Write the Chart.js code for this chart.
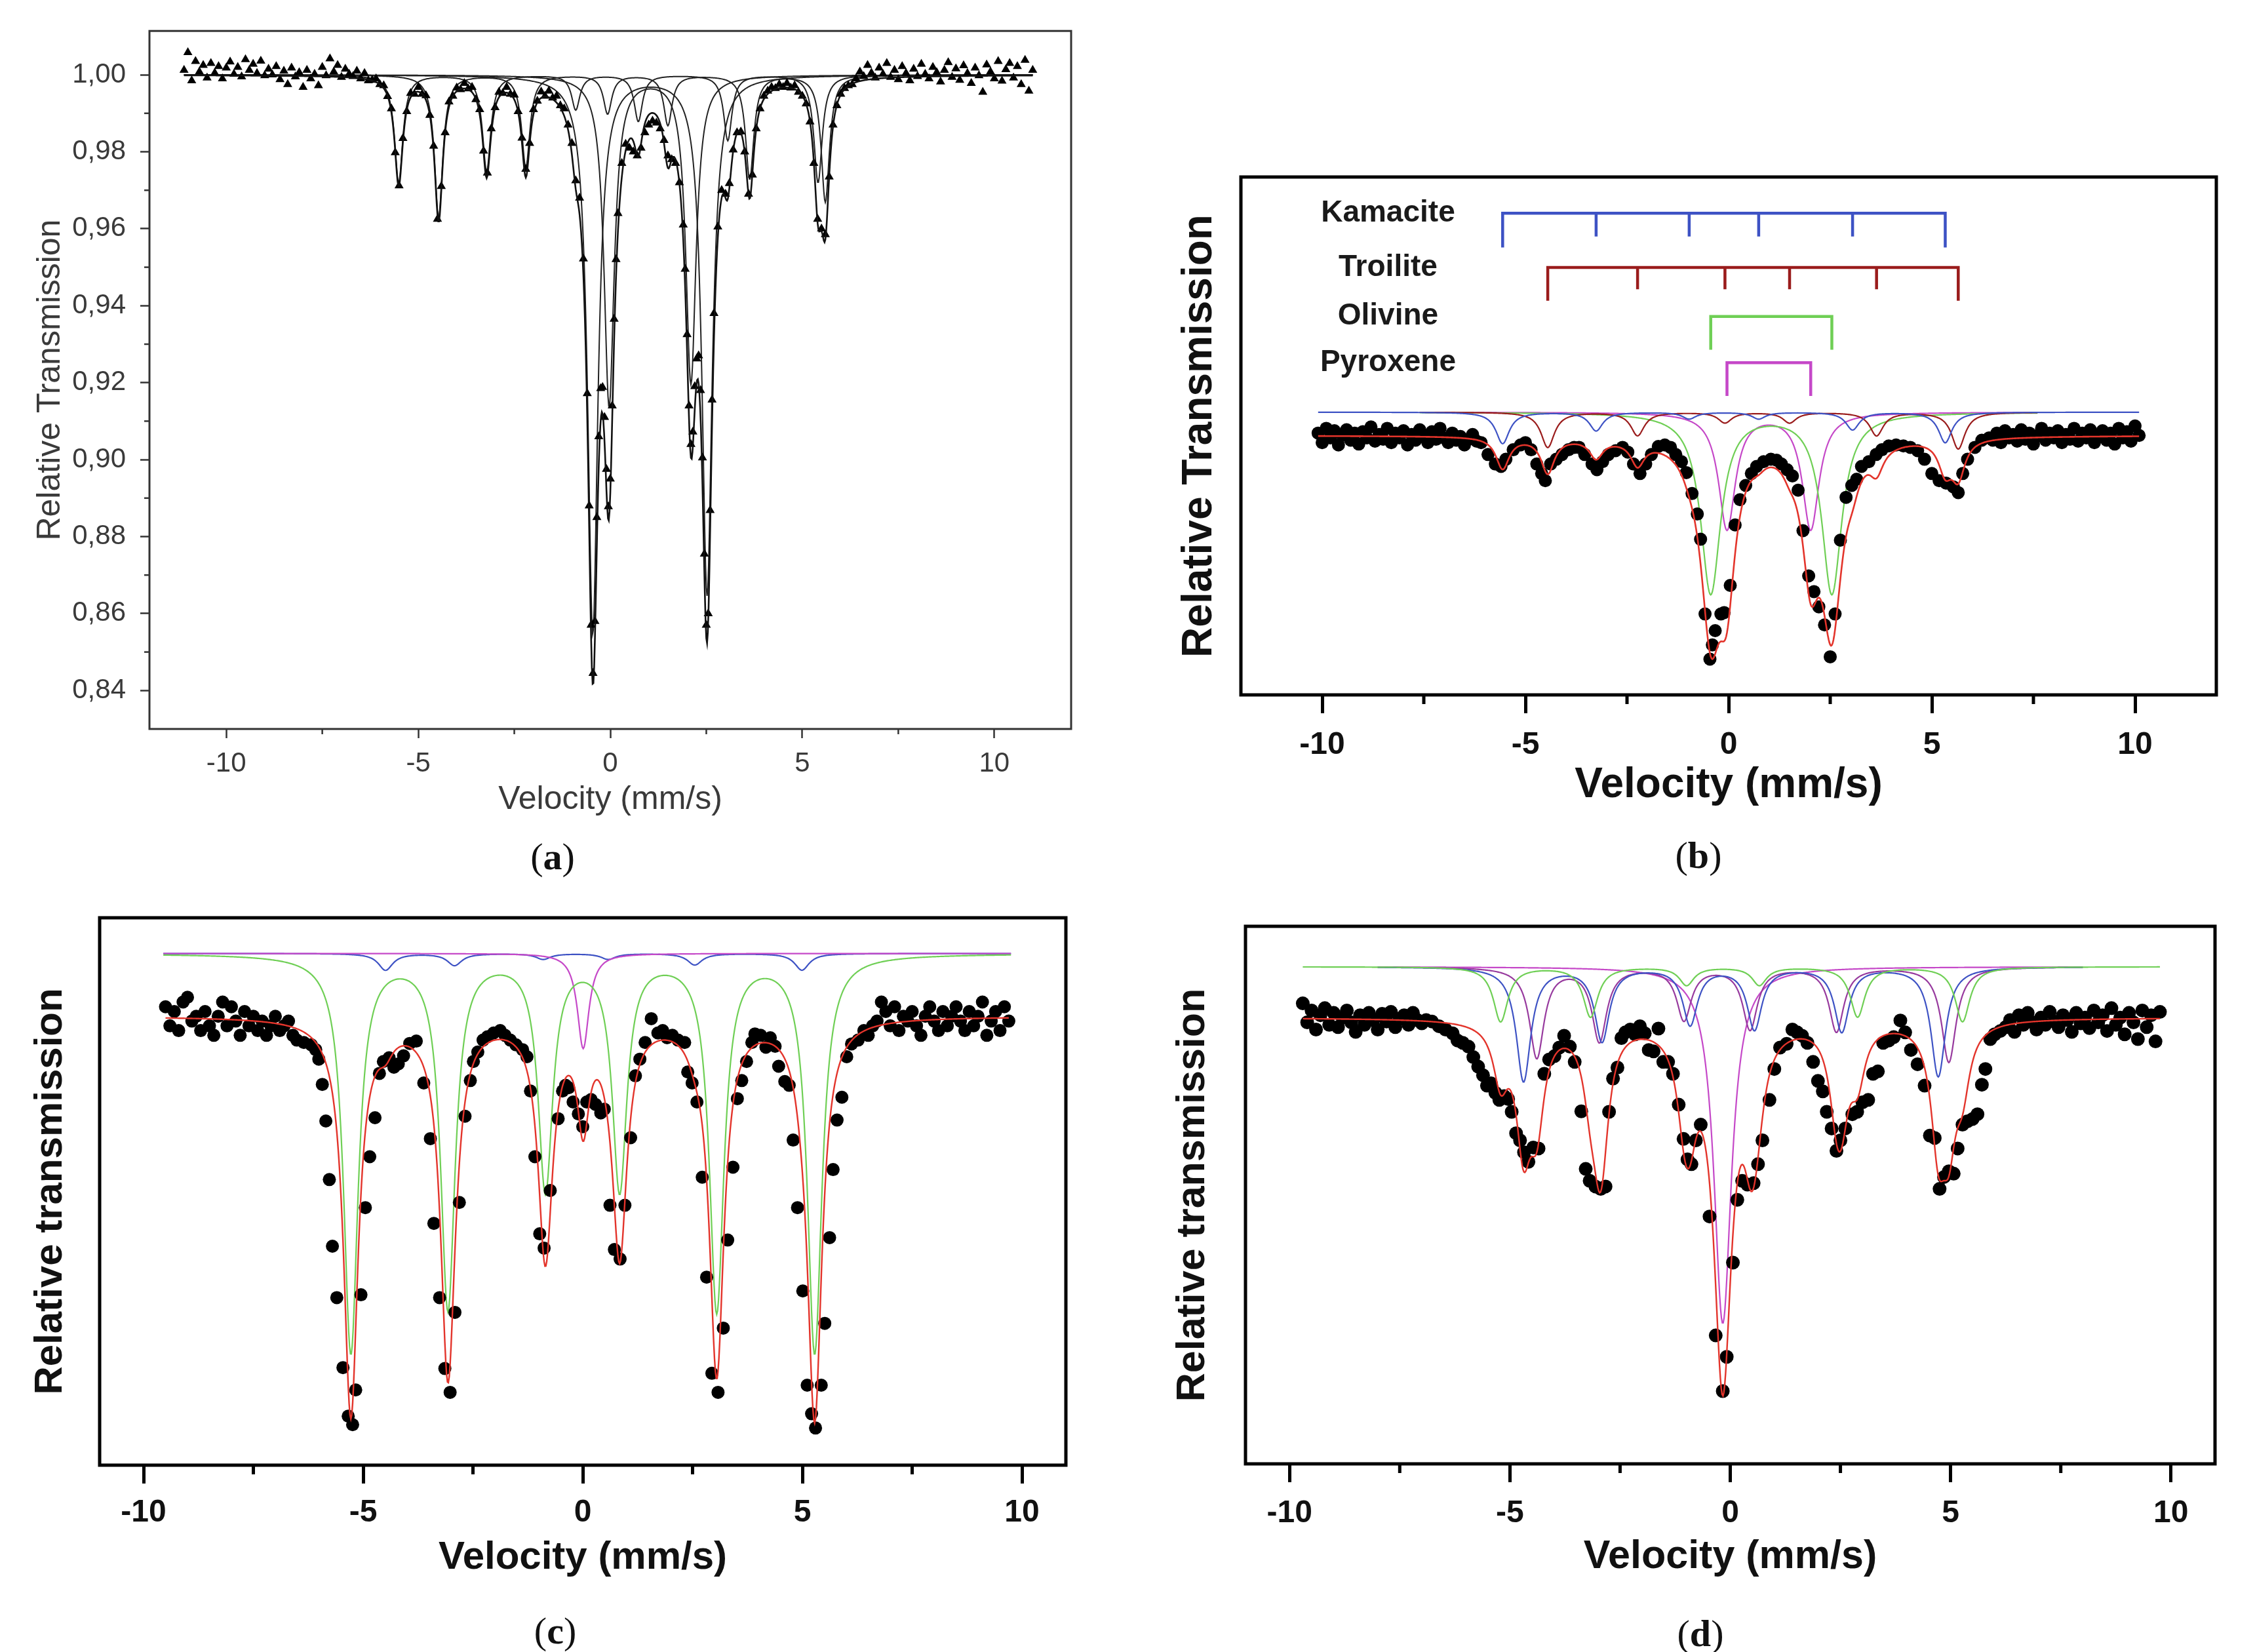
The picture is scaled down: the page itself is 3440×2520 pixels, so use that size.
<!DOCTYPE html>
<html>
<head>
<meta charset="utf-8">
<title>Mössbauer spectra</title>
<script src="https://cdn.jsdelivr.net/npm/chart.js@4.4.1/dist/chart.umd.min.js"></script>
<style>
  html, body { margin: 0; padding: 0; background: #fff; }
  body { position: relative; width: 3440px; height: 2520px; overflow: hidden; }
  canvas { position: absolute; }
  .caption { position: absolute; transform: translate(-50%, -50%); font-family: 'Liberation Serif', 'DejaVu Serif', serif; font-size: 58px; color: #111; white-space: nowrap; }
</style>
</head>
<body>
<canvas id="chartA"></canvas>
<canvas id="chartB"></canvas>
<canvas id="chartC"></canvas>
<canvas id="chartD"></canvas>
<div class="caption" style="left:843px;top:1306px">(<b>a</b>)</div>
<div class="caption" style="left:2591px;top:1304px">(<b>b</b>)</div>
<div class="caption" style="left:847px;top:2487px">(<b>c</b>)</div>
<div class="caption" style="left:2594px;top:2491px">(<b>d</b>)</div>
<script>
// ---- axis values shared by the panels ----
const velocityTicks = [-10, -5, 0, 5, 10];
const velocityMinorTicks = [-7.5, -2.5, 2.5, 7.5];
const aTransTicks = [0.84, 0.86, 0.88, 0.90, 0.92, 0.94, 0.96, 0.98, 1.00];
const aTransMinorTicks = [0.85, 0.87, 0.89, 0.91, 0.93, 0.95, 0.97, 0.99];

// ---- panel (a): measured spectrum [velocity, relative transmission] ----
const aSpectrum = [
  [-11.1,1.0012],[-11.0,1.0058],[-10.9,0.9985],[-10.8,1.0035],[-10.7,1.0008],[-10.6,1.0025],[-10.5,0.9992],[-10.4,1.0030],
  [-10.3,1.0005],[-10.2,1.0022],[-10.1,0.9990],[-10.0,1.0018],[-9.9,1.0034],[-9.8,1.0002],[-9.7,1.0020],[-9.6,0.9995],
  [-9.5,1.0040],[-9.4,1.0012],[-9.3,1.0028],[-9.2,1.0004],[-9.1,1.0036],[-9.0,0.9998],[-8.9,1.0015],[-8.8,1.0000],
  [-8.7,1.0022],[-8.6,0.9988],[-8.5,1.0010],[-8.4,0.9975],[-8.3,1.0018],[-8.2,0.9995],[-8.1,1.0006],[-8.0,0.9968],
  [-7.9,1.0012],[-7.8,0.9990],[-7.7,1.0002],[-7.6,0.9972],[-7.5,1.0020],[-7.4,0.9998],[-7.3,1.0042],[-7.2,1.0008],
  [-7.1,1.0025],[-7.0,0.9994],[-6.9,1.0015],[-6.8,1.0002],[-6.7,0.9996],[-6.6,1.0010],[-6.5,0.9990],[-6.4,1.0004],
  [-6.3,0.9985],[-6.2,0.9986],[-6.1,0.9990],[-6.0,0.9975],[-5.9,0.9972],[-5.8,0.9944],[-5.7,0.9912],[-5.6,0.9798],
  [-5.5,0.9712],[-5.4,0.9835],[-5.3,0.9905],[-5.2,0.9952],[-5.1,0.9950],[-5.0,0.9968],[-4.9,0.9950],[-4.8,0.9946],
  [-4.7,0.9895],[-4.6,0.9815],[-4.5,0.9625],[-4.4,0.9710],[-4.3,0.9850],[-4.2,0.9930],[-4.1,0.9945],[-4.0,0.9966],
  [-3.9,0.9962],[-3.8,0.9978],[-3.7,0.9964],[-3.6,0.9968],[-3.5,0.9936],[-3.4,0.9910],[-3.3,0.9802],[-3.2,0.9745],
  [-3.1,0.9860],[-3.0,0.9915],[-2.9,0.9955],[-2.8,0.9952],[-2.7,0.9968],[-2.6,0.9950],[-2.5,0.9948],[-2.4,0.9905],
  [-2.3,0.9836],[-2.2,0.9755],[-2.1,0.9822],[-2.0,0.9910],[-1.9,0.9932],[-1.8,0.9956],[-1.7,0.9945],[-1.6,0.9958],
  [-1.5,0.9940],[-1.4,0.9945],[-1.3,0.9920],[-1.2,0.9912],[-1.1,0.9870],[-1.0,0.9822],[-0.9,0.9725],[-0.8,0.9680],
  [-0.7,0.9522],[-0.6,0.9172],[-0.55,0.8880],[-0.5,0.8570],[-0.45,0.8445],[-0.4,0.8580],[-0.35,0.8850],[-0.3,0.9060],
  [-0.25,0.9185],[-0.2,0.9188],[-0.15,0.9110],[-0.1,0.8975],[-0.05,0.8878],[0.0,0.8950],[0.05,0.9140],[0.1,0.9365],
  [0.15,0.9520],[0.2,0.9640],[0.3,0.9770],[0.4,0.9820],[0.5,0.9810],[0.6,0.9800],[0.7,0.9790],[0.8,0.9810],
  [0.9,0.9850],[1.0,0.9870],[1.1,0.9880],[1.2,0.9875],[1.3,0.9860],[1.4,0.9830],[1.5,0.9790],[1.6,0.9780],
  [1.7,0.9770],[1.8,0.9720],[1.9,0.9610],[1.95,0.9495],[2.0,0.9325],[2.05,0.9140],[2.1,0.9040],[2.15,0.9072],
  [2.2,0.9190],[2.25,0.9262],[2.3,0.9270],[2.35,0.9180],[2.4,0.9005],[2.45,0.8755],[2.5,0.8570],[2.55,0.8600],
  [2.6,0.8868],[2.65,0.9155],[2.7,0.9380],[2.8,0.9605],[2.9,0.9700],[3.0,0.9690],[3.1,0.9718],[3.2,0.9805],
  [3.3,0.9850],[3.4,0.9852],[3.5,0.9800],[3.6,0.9690],[3.7,0.9740],[3.8,0.9860],[3.9,0.9912],[4.0,0.9945],
  [4.1,0.9958],[4.2,0.9968],[4.3,0.9965],[4.4,0.9975],[4.5,0.9968],[4.6,0.9978],[4.7,0.9966],[4.8,0.9972],
  [4.9,0.9955],[5.0,0.9945],[5.1,0.9925],[5.2,0.9878],[5.3,0.9770],[5.4,0.9625],[5.5,0.9600],[5.6,0.9585],
  [5.7,0.9735],[5.8,0.9870],[5.9,0.9920],[6.0,0.9950],[6.1,0.9965],[6.2,0.9972],[6.3,0.9975],[6.4,0.9990],
  [6.5,1.0008],[6.6,0.9996],[6.7,1.0025],[6.8,1.0005],[6.9,0.9992],[7.0,1.0018],[7.1,1.0002],[7.2,1.0030],
  [7.3,0.9994],[7.4,1.0012],[7.5,0.9988],[7.6,1.0022],[7.7,1.0004],[7.8,0.9985],[7.9,1.0015],[8.0,0.9996],
  [8.1,1.0028],[8.2,1.0002],[8.3,0.9990],[8.4,1.0020],[8.5,1.0006],[8.6,0.9982],[8.7,1.0012],[8.8,1.0032],
  [8.9,0.9994],[9.0,1.0016],[9.1,0.9986],[9.2,1.0024],[9.3,1.0004],[9.4,0.9978],[9.5,1.0018],[9.6,0.9998],
  [9.7,0.9955],[9.8,1.0026],[9.9,1.0008],[10.0,0.9990],[10.1,1.0035],[10.2,0.9984],[10.3,1.0014],[10.4,1.0030],
  [10.5,0.9992],[10.6,1.0022],[10.7,0.9975],[10.8,1.0038],[10.9,0.9958],[11.0,1.0012]
];
// fitted sub-spectra of (a): line positions (mm/s), line depths, half width
const aKamacite = { centers: [-5.51, -3.22, -0.90, 0.73, 3.06, 5.41], depths: [0.028, 0.025, 0.009, 0.012, 0.017, 0.028], hwhm: 0.13 };
const aTroilite = { centers: [-4.47, -2.20, -0.07, 1.50, 3.63, 5.60], depths: [0.037, 0.024, 0.010, 0.013, 0.027, 0.033], hwhm: 0.13 };
const aOlivine = { centers: [-0.455, 2.52], depths: [0.145, 0.135], hwhm: 0.16 };
const aPyroxene = { centers: [-0.03, 2.10], depths: [0.086, 0.080], hwhm: 0.16 };

// ---- panel (b) ----
const bSpectrum = [
  [-10.1,100.05],[-10.0,99.85],[-9.9,100.15],[-9.8,99.95],[-9.7,100.10],[-9.6,99.80],[-9.5,100.00],[-9.4,100.12],
  [-9.3,99.90],[-9.2,100.05],[-9.1,99.82],[-9.0,100.08],[-8.9,99.95],[-8.8,100.18],[-8.7,99.88],[-8.6,100.02],
  [-8.5,99.92],[-8.4,100.15],[-8.3,99.85],[-8.2,100.05],[-8.1,99.95],[-8.0,100.10],[-7.9,99.80],[-7.8,100.02],
  [-7.7,99.90],[-7.6,100.12],[-7.5,99.98],[-7.4,99.85],[-7.3,100.08],[-7.2,99.92],[-7.1,100.15],[-7.0,99.95],
  [-6.9,99.85],[-6.8,100.05],[-6.7,99.90],[-6.6,99.98],[-6.5,99.80],[-6.4,99.92],[-6.3,100.02],[-6.2,99.88],
  [-6.09,99.85],[-5.92,99.60],[-5.74,99.40],[-5.60,99.35],[-5.48,99.50],[-5.30,99.70],[-5.12,99.80],[-5.00,99.85],
  [-4.86,99.70],[-4.72,99.40],[-4.60,99.20],[-4.51,99.05],[-4.38,99.40],[-4.24,99.50],[-4.10,99.60],[-3.94,99.70],
  [-3.80,99.75],[-3.68,99.75],[-3.54,99.60],[-3.36,99.40],[-3.24,99.28],[-3.10,99.45],[-2.96,99.60],[-2.78,99.68],
  [-2.61,99.75],[-2.48,99.65],[-2.34,99.40],[-2.18,99.20],[-2.04,99.40],[-1.90,99.60],[-1.73,99.77],[-1.57,99.80],
  [-1.43,99.75],[-1.30,99.60],[-1.16,99.45],[-1.04,99.22],[-0.90,98.78],[-0.77,98.35],[-0.69,97.82],[-0.58,96.25],
  [-0.46,95.30],[-0.40,95.60],[-0.33,95.90],[-0.19,96.25],[-0.11,96.28],[0.04,96.85],[0.16,98.12],[0.28,98.65],
  [0.42,98.95],[0.56,99.20],[0.69,99.35],[0.86,99.45],[1.04,99.50],[1.18,99.48],[1.30,99.40],[1.44,99.28],
  [1.57,99.15],[1.71,98.85],[1.83,98.00],[1.97,97.05],[2.10,96.72],[2.22,96.40],[2.36,96.02],[2.50,95.35],
  [2.62,96.25],[2.75,97.80],[2.89,98.70],[3.03,98.95],[3.15,99.08],[3.27,99.35],[3.45,99.45],[3.63,99.60],
  [3.77,99.70],[3.94,99.78],[4.12,99.80],[4.30,99.78],[4.47,99.75],[4.65,99.68],[4.82,99.50],[5.00,99.20],
  [5.18,99.05],[5.35,99.00],[5.53,98.92],[5.65,98.80],[5.76,99.20],[5.88,99.50],[6.06,99.75],[6.23,99.90],
  [6.41,99.95],[6.5,99.90],[6.6,100.05],[6.7,99.85],[6.8,100.10],[6.9,99.95],[7.0,100.02],[7.1,99.88],
  [7.2,100.12],[7.3,99.92],[7.4,100.05],[7.5,99.82],[7.6,100.00],[7.7,100.15],[7.8,99.90],[7.9,100.05],
  [8.0,99.95],[8.1,100.10],[8.2,99.85],[8.3,100.02],[8.4,99.92],[8.5,100.15],[8.6,99.88],[8.7,100.05],
  [8.8,99.95],[8.9,100.12],[9.0,99.85],[9.1,100.00],[9.2,100.10],[9.3,99.90],[9.4,100.05],[9.5,99.82],
  [9.6,100.15],[9.7,99.95],[9.8,100.08],[9.9,99.88],[10.0,100.20],[10.1,100.00]
];
const bKamacite = { centers: [-5.56, -3.26, -0.97, 0.74, 3.05, 5.33], depths: [0.66, 0.39, 0.14, 0.14, 0.37, 0.64], hwhm: 0.2 };
const bTroilite = { centers: [-4.45, -2.24, -0.09, 1.50, 3.64, 5.65], depths: [0.74, 0.49, 0.22, 0.22, 0.49, 0.77], hwhm: 0.2 };
const bOlivine = { centers: [-0.44, 2.54], depths: [3.8, 3.8], hwhm: 0.3 };
const bPyroxene = { centers: [-0.04, 2.02], depths: [2.45, 2.45], hwhm: 0.25 };
// stick-diagram rows above the spectrum: label, level, drop of end and inner ticks
const bPhaseNames = ['Kamacite', 'Troilite', 'Olivine', 'Pyroxene'];
const bPhaseLevels = [104.67, 103.53, 102.50, 101.53];
const bPhaseEndDrops = [0.72, 0.70, 0.70, 0.70];
const bPhaseInnerDrops = [0.49, 0.46, 0, 0];

// ---- panel (c) ----
const cSpectrum = [
  [-9.5,100.2],[-9.4,99.8],[-9.3,100.1],[-9.2,99.7],[-9.1,100.3],[-9.0,100.4],[-8.9,99.9],[-8.8,100.0],
  [-8.7,99.7],[-8.6,100.1],[-8.5,99.8],[-8.4,99.6],[-8.3,100.0],[-8.2,100.3],[-8.1,99.8],[-8.0,100.2],
  [-7.9,99.9],[-7.8,99.6],[-7.7,100.1],[-7.6,99.8],[-7.5,100.0],[-7.4,99.7],[-7.3,99.9],[-7.2,99.6],
  [-7.1,99.8],[-7.0,100.0],[-6.9,99.7],[-6.8,99.8],[-6.7,99.9],[-6.6,99.6],
  [-6.51,99.50],[-6.35,99.45],[-6.18,99.40],[-6.08,99.30],[-6.01,99.10],[-5.93,98.57],[-5.85,97.80],[-5.77,96.57],
  [-5.70,95.17],[-5.60,94.09],[-5.46,92.62],[-5.34,91.60],[-5.24,91.42],[-5.17,92.15],[-5.05,94.15],[-4.95,95.98],
  [-4.85,97.05],[-4.73,97.87],[-4.63,98.80],[-4.54,99.05],[-4.41,99.13],[-4.30,98.93],[-4.20,99.00],[-4.08,99.17],
  [-3.94,99.43],[-3.79,99.48],[-3.62,98.60],[-3.47,97.43],[-3.39,95.65],[-3.26,94.09],[-3.14,92.60],[-3.02,92.10],
  [-2.91,93.78],[-2.81,96.09],[-2.68,97.90],[-2.56,98.65],[-2.49,99.05],[-2.39,99.25],[-2.27,99.50],[-2.17,99.57],
  [-2.03,99.65],[-1.88,99.70],[-1.77,99.60],[-1.65,99.50],[-1.52,99.40],[-1.37,99.30],[-1.27,99.15],[-1.19,98.43],
  [-1.09,97.05],[-0.98,95.43],[-0.88,95.13],[-0.74,96.34],[-0.56,97.85],[-0.46,98.43],[-0.39,98.55],[-0.32,98.50],
  [-0.22,98.20],[-0.10,97.95],[0.00,97.68],[0.09,98.20],[0.19,98.25],[0.29,98.15],[0.41,97.97],[0.49,98.05],
  [0.62,96.03],[0.72,95.10],[0.85,94.90],[0.96,96.03],[1.09,97.45],[1.20,98.75],[1.30,99.10],[1.42,99.45],
  [1.56,99.95],[1.71,99.65],[1.82,99.70],[1.92,99.55],[2.04,99.60],[2.17,99.50],[2.32,99.45],[2.39,98.83],
  [2.49,98.60],[2.60,98.20],[2.72,96.62],[2.82,94.52],[2.94,92.50],[3.08,92.10],[3.20,93.45],[3.30,95.30],
  [3.42,96.83],[3.52,98.27],[3.62,98.65],[3.73,99.05],[3.85,99.45],[3.92,99.63],[4.05,99.60],[4.17,99.35],
  [4.27,99.55],[4.38,99.37],[4.46,98.95],[4.60,98.63],[4.70,98.55],[4.79,97.40],[4.89,95.98],[5.01,94.23],
  [5.11,92.25],[5.21,91.65],[5.30,91.35],[5.43,92.25],[5.51,93.55],[5.62,95.35],[5.70,96.78],[5.79,97.82],
  [5.90,98.30],[6.01,99.15],[6.12,99.42],[6.27,99.50],
  [6.4,99.7],[6.5,99.6],[6.6,99.8],[6.7,99.9],[6.8,100.3],[6.9,100.1],[7.0,99.8],[7.1,100.2],
  [7.2,99.7],[7.3,100.0],[7.4,99.9],[7.5,100.1],[7.6,99.8],[7.7,99.6],[7.8,100.0],[7.9,100.2],
  [8.0,99.9],[8.1,99.7],[8.2,100.1],[8.3,99.8],[8.4,100.0],[8.5,100.2],[8.6,99.9],[8.7,99.7],
  [8.8,100.1],[8.9,99.8],[9.0,100.0],[9.1,100.3],[9.2,99.6],[9.3,99.9],[9.4,100.1],[9.5,99.7],
  [9.6,100.2],[9.7,99.9]
];
const cSextetGreen = { centers: [-5.28, -3.07, -0.85, 0.84, 3.05, 5.28], depths: [8.35, 7.4, 4.9, 4.9, 7.45, 8.35], hwhm: 0.2 };
const cSextetBlue = { centers: [-4.49, -2.92, -0.90, 0.58, 2.55, 4.99], depths: [0.35, 0.25, 0.12, 0.12, 0.24, 0.35], hwhm: 0.2 };
const cSingletMagenta = { centers: [0.01], depths: [2.0], hwhm: 0.16 };

// ---- panel (d) ----
const dSpectrum = [
  [-9.7,100.30],[-9.6,99.90],[-9.5,100.15],[-9.4,99.75],[-9.3,100.05],[-9.2,100.20],[-9.1,99.85],[-9.0,100.10],
  [-8.9,99.80],[-8.8,100.00],[-8.7,100.15],[-8.6,99.90],[-8.5,99.70],[-8.4,100.05],[-8.3,99.85],[-8.2,100.10],
  [-8.1,99.95],[-8.0,99.75],[-7.9,100.08],[-7.8,99.92],[-7.7,100.12],[-7.6,99.80],[-7.5,99.98],[-7.4,100.05],
  [-7.3,99.85],[-7.2,100.10],[-7.1,99.95],[-7.0,99.88],[-6.9,99.95],
  [-6.77,99.92],[-6.61,99.82],[-6.46,99.75],[-6.30,99.67],[-6.19,99.52],[-6.07,99.47],[-5.94,99.39],[-5.83,99.17],
  [-5.72,98.97],[-5.61,98.79],[-5.52,98.57],[-5.43,98.62],[-5.33,98.42],[-5.24,98.27],[-5.13,98.35],[-5.04,98.29],
  [-4.96,98.02],[-4.86,97.57],[-4.77,97.42],[-4.68,97.17],[-4.58,96.97],[-4.47,97.27],[-4.35,97.25],[-4.22,98.82],
  [-4.11,99.12],[-3.99,99.19],[-3.88,99.37],[-3.77,99.62],[-3.64,99.39],[-3.53,99.07],[-3.38,98.03],[-3.28,96.82],
  [-3.19,96.57],[-3.06,96.45],[-2.94,96.40],[-2.83,96.45],[-2.75,98.02],[-2.66,98.72],[-2.56,98.95],[-2.47,99.57],
  [-2.38,99.69],[-2.27,99.75],[-2.16,99.65],[-2.05,99.82],[-1.94,99.67],[-1.85,99.32],[-1.74,99.29],[-1.63,99.77],
  [-1.52,99.07],[-1.41,99.07],[-1.30,98.82],[-1.17,98.17],[-1.06,97.45],[-0.97,97.02],[-0.88,96.92],[-0.78,97.42],
  [-0.67,97.75],[-0.47,95.82],[-0.33,93.32],[-0.17,92.15],[-0.08,92.87],[0.06,94.85],[0.16,96.17],[0.27,96.57],
  [0.39,96.49],[0.53,96.52],[0.63,96.92],[0.73,97.42],[0.89,98.27],[1.00,98.92],[1.13,99.37],[1.28,99.45],
  [1.41,99.75],[1.52,99.69],[1.63,99.62],[1.75,99.47],[1.88,99.07],[1.99,98.67],[2.10,98.45],[2.19,98.02],
  [2.30,97.67],[2.41,97.20],[2.50,97.42],[2.61,97.67],[2.77,97.97],[2.88,98.02],[3.00,98.22],[3.13,98.27],
  [3.24,98.82],[3.35,98.87],[3.47,99.47],[3.60,99.52],[3.71,99.59],[3.86,99.94],[3.97,99.69],[4.10,99.32],
  [4.25,99.02],[4.41,98.57],[4.53,97.52],[4.64,97.47],[4.75,96.40],[4.85,96.65],[4.96,96.77],[5.07,96.72],
  [5.16,97.25],[5.27,97.75],[5.38,97.82],[5.50,97.87],[5.61,97.97],[5.71,98.59],[5.79,98.92],[5.90,99.55],
  [6.00,99.65],[6.13,99.72],
  [6.25,99.80],[6.35,99.95],[6.45,99.70],[6.55,100.05],[6.65,99.85],[6.75,100.10],[6.85,99.90],[6.95,99.75],
  [7.05,100.00],[7.15,99.85],[7.25,100.12],[7.35,99.92],[7.45,99.80],[7.55,100.05],[7.65,99.95],[7.75,99.70],
  [7.85,100.10],[7.95,99.88],[8.05,100.00],[8.15,99.78],[8.25,100.15],[8.35,99.90],[8.45,100.05],[8.55,99.72],
  [8.65,100.20],[8.75,99.85],[8.85,100.00],[8.95,99.65],[9.05,100.10],[9.15,99.90],[9.25,99.55],[9.35,100.15],
  [9.45,99.80],[9.55,100.05],[9.65,99.50],[9.75,100.12]
];
const dSextetGreen = { centers: [-5.21, -3.17, -0.99, 0.66, 2.89, 5.27], depths: [1.15, 1.05, 0.38, 0.38, 1.05, 1.15], hwhm: 0.2 };
const dSextetBlue = { centers: [-4.69, -2.91, -0.91, 0.55, 2.53, 4.72], depths: [2.4, 1.55, 1.2, 1.3, 1.35, 2.3], hwhm: 0.2 };
const dSextetPurple = { centers: [-4.39, -2.97, -1.05, 0.45, 2.41, 4.96], depths: [1.9, 1.55, 1.1, 1.3, 1.35, 2.0], hwhm: 0.2 };
const dSingletMagenta = { centers: [-0.17], depths: [7.5], hwhm: 0.24 };

// ---- colours ----
const FIT_RED = '#e3342b';
const BLUE = '#3d52c4';
const DARK_RED = '#9a1c1c';
const GREEN = '#6fcf55';
const MAGENTA = '#c548c8';
const PURPLE = '#973a9e';

// Lorentzian absorption of one sub-spectrum at velocity v
function absorption(v, site) {
  let s = 0;
  site.centers.forEach((c, i) => {
    const t = (v - c) / site.hwhm;
    s += site.depths[i] / (1 + t * t);
  });
  return s;
}

function fitLine(sites, base, from, to) {
  const pts = [];
  const n = Math.round((to - from) / 0.02);
  for (let i = 0; i <= n; i++) {
    const v = from + (to - from) * i / n;
    pts.push({ x: v, y: sites.reduce((acc, s) => acc - absorption(v, s), base) });
  }
  return pts;
}

function lineSet(data, color, width, order) {
  return { data, showLine: true, borderColor: color, borderWidth: width, pointRadius: 0, fill: false, tension: 0, order };
}

function dotSet(spectrum, style, radius) {
  return {
    data: spectrum.map(([x, y]) => ({ x, y })), showLine: false, pointStyle: style, pointRadius: radius,
    backgroundColor: '#000', borderColor: '#000', borderWidth: 0, order: 1
  };
}

// bracket (stick diagram) for one phase of panel (b)
function bracket(lines, level, endDrop, innerDrop) {
  const first = lines[0], last = lines[lines.length - 1];
  const pts = [{ x: first, y: level - endDrop }, { x: first, y: level }, { x: last, y: level }, { x: last, y: level - endDrop }];
  if (innerDrop > 0) {
    lines.slice(1, -1).forEach(c => {
      pts.push({ x: c, y: null }, { x: c, y: level }, { x: c, y: level - innerDrop });
    });
  }
  return pts;
}

// frame box and minor ticks
const frameTicks = {
  id: 'frameTicks',
  afterDraw(chart, args, opts) {
    const { ctx, chartArea: a, scales } = chart;
    ctx.save();
    ctx.strokeStyle = opts.color;
    ctx.lineWidth = opts.tickWidth;
    (opts.minorX || []).forEach(v => {
      const px = scales.x.getPixelForValue(v);
      ctx.beginPath(); ctx.moveTo(px, a.bottom); ctx.lineTo(px, a.bottom + opts.minorLength); ctx.stroke();
    });
    (opts.minorY || []).forEach(v => {
      const py = scales.y.getPixelForValue(v);
      ctx.beginPath(); ctx.moveTo(a.left, py); ctx.lineTo(a.left - opts.minorLength, py); ctx.stroke();
    });
    ctx.lineWidth = opts.frameWidth;
    ctx.strokeRect(a.left, a.top, a.right - a.left, a.bottom - a.top);
    ctx.restore();
  }
};

// phase names next to the brackets
const phaseLabels = {
  id: 'phaseLabels',
  afterDatasetsDraw(chart, args, opts) {
    if (!opts.names) return;
    const { ctx, scales } = chart;
    ctx.save();
    ctx.font = opts.font;
    ctx.fillStyle = opts.color;
    ctx.textAlign = 'center';
    ctx.textBaseline = 'middle';
    opts.names.forEach((name, i) => {
      ctx.fillText(name, scales.x.getPixelForValue(opts.x), scales.y.getPixelForValue(opts.levels[i]));
    });
    ctx.restore();
  }
};

function makeChart(id, box, spec) {
  const canvas = document.getElementById(id);
  const cv = box.canvas;
  canvas.width = cv.width;
  canvas.height = cv.height;
  Object.assign(canvas.style, { left: cv.left + 'px', top: cv.top + 'px', width: cv.width + 'px', height: cv.height + 'px' });
  const yWidth = box.frame.l - box.yAxisLeft;
  const xHeight = box.xAxisBottom - box.frame.b;

  const yScale = {
    type: 'linear', position: 'left', min: spec.yRange[0], max: spec.yRange[1],
    afterFit: s => { s.width = yWidth; },
    border: { display: false },
    title: { display: true, text: spec.yTitle, font: spec.titleFont, color: spec.textColor, padding: { top: 4, bottom: 0 } }
  };
  if (spec.yTicks) {
    yScale.afterBuildTicks = s => { s.ticks = spec.yTicks.map(v => ({ value: v })); };
    yScale.ticks = { autoSkip: false, padding: spec.yTickPad, font: spec.tickFont, color: spec.textColor, callback: spec.yFormat };
    yScale.grid = { drawOnChartArea: false, drawTicks: true, tickLength: spec.tickLength, tickWidth: spec.tickWidth, tickColor: spec.lineColor };
  } else {
    yScale.ticks = { display: false };
    yScale.grid = { display: false };
  }

  return new Chart(canvas.getContext('2d'), {
    type: 'scatter',
    data: { datasets: spec.datasets },
    options: {
      responsive: false, animation: false, devicePixelRatio: 1, events: [],
      layout: {
        autoPadding: false,
        padding: {
          left: box.yAxisLeft - cv.left, top: box.frame.t - cv.top,
          right: cv.left + cv.width - box.frame.r, bottom: cv.top + cv.height - box.xAxisBottom
        }
      },
      plugins: {
        legend: { display: false }, tooltip: { enabled: false },
        frameTicks: {
          color: spec.lineColor, tickWidth: spec.tickWidth, frameWidth: spec.frameWidth, minorLength: spec.minorLength,
          minorX: velocityMinorTicks, minorY: spec.yMinorTicks || []
        },
        phaseLabels: spec.labels || {}
      },
      scales: {
        x: {
          type: 'linear', position: 'bottom', min: spec.xRange[0], max: spec.xRange[1],
          afterBuildTicks: s => { s.ticks = velocityTicks.map(v => ({ value: v })); },
          afterFit: s => { s.height = xHeight; },
          ticks: { autoSkip: false, maxRotation: 0, padding: spec.xTickPad, font: spec.tickFont, color: spec.textColor, callback: v => String(v) },
          grid: { drawOnChartArea: false, drawTicks: true, tickLength: spec.tickLength, tickWidth: spec.tickWidth, tickColor: spec.lineColor },
          border: { display: false },
          title: { display: true, text: 'Velocity (mm/s)', font: spec.titleFont, color: spec.textColor, padding: { top: 0, bottom: 4 } }
        },
        y: yScale
      }
    },
    plugins: [frameTicks, phaseLabels]
  });
}

const SANS = "'Liberation Sans', Arial, sans-serif";
const boldTicks = { family: SANS, size: 48, weight: 'bold', lineHeight: 1.2 };
const boldTitle = size => ({ family: SANS, size: size, weight: 'bold', lineHeight: 1.2 });

// (a)
makeChart('chartA',
  { canvas: { left: 0, top: 0, width: 1720, height: 1280 }, frame: { l: 228, t: 32, r: 1634, b: 1112 }, yAxisLeft: 43, xAxisBottom: 1254 },
  {
    xRange: [-12, 12], yRange: [0.83, 1.0114],
    yTicks: aTransTicks, yMinorTicks: aTransMinorTicks, yFormat: v => v.toFixed(2).replace('.', ','),
    yTitle: 'Relative Transmission',
    tickFont: { family: SANS, size: 42, lineHeight: 1.2 }, titleFont: { family: SANS, size: 50, lineHeight: 1.2 },
    textColor: '#3a3a3a', lineColor: '#333', frameWidth: 3, tickWidth: 2.5, tickLength: 14, minorLength: 8,
    xTickPad: 14, yTickPad: 22,
    datasets: [
      lineSet(fitLine([aKamacite, aTroilite, aOlivine, aPyroxene], 1.0, -11.1, 11.0), '#111', 2.6, 0),
      dotSet(aSpectrum, 'triangle', 8),
      lineSet(fitLine([aKamacite], 1.0, -11.1, 11.0), '#222', 2, 2),
      lineSet(fitLine([aTroilite], 1.0, -11.1, 11.0), '#222', 2, 2),
      lineSet(fitLine([aOlivine], 1.0, -11.1, 11.0), '#222', 2, 2),
      lineSet(fitLine([aPyroxene], 1.0, -11.1, 11.0), '#222', 2, 2)
    ]
  });

// (b)
const bComponentBase = 100.49;
const bBracketColors = [BLUE, DARK_RED, GREEN, MAGENTA];
const bBracketLines = [bKamacite.centers, bTroilite.centers, bOlivine.centers, bPyroxene.centers];
makeChart('chartB',
  { canvas: { left: 1720, top: 200, width: 1720, height: 1100 }, frame: { l: 1893, t: 270, r: 3381, b: 1060 }, yAxisLeft: 1788, xAxisBottom: 1241 },
  {
    xRange: [-12, 12], yRange: [94.55, 105.43],
    yTitle: 'Relative Transmission',
    tickFont: boldTicks, titleFont: boldTitle(64),
    textColor: '#111', lineColor: '#000', frameWidth: 5, tickWidth: 5, tickLength: 28, minorLength: 14,
    xTickPad: 20,
    labels: { names: bPhaseNames, levels: bPhaseLevels, x: -8.38, font: `bold 46px ${SANS}`, color: '#1a1a1a' },
    datasets: [
      lineSet(fitLine([bKamacite, bTroilite, bOlivine, bPyroxene], 100, -10.1, 10.1), FIT_RED, 2.6, 0),
      dotSet(bSpectrum, 'circle', 10),
      lineSet(fitLine([bKamacite], bComponentBase, -10.1, 10.1), BLUE, 2.2, 2),
      lineSet(fitLine([bTroilite], bComponentBase, -7.6, 7.6), DARK_RED, 2.2, 2),
      lineSet(fitLine([bOlivine], bComponentBase, -7.6, 7.6), GREEN, 2.2, 2),
      lineSet(fitLine([bPyroxene], bComponentBase, -7.6, 7.6), MAGENTA, 2.2, 2),
      ...bPhaseNames.map((n, i) => lineSet(bracket(bBracketLines[i], bPhaseLevels[i], bPhaseEndDrops[i], bPhaseInnerDrops[i]), bBracketColors[i], 4.5, 3))
    ]
  });

// (c)
const cComponentBase = 101.32;
makeChart('chartC',
  { canvas: { left: 0, top: 1300, width: 1720, height: 1220 }, frame: { l: 152, t: 1400, r: 1626, b: 2235 }, yAxisLeft: 37, xAxisBottom: 2416 },
  {
    xRange: [-11, 11], yRange: [90.57, 102.07],
    yTitle: 'Relative transmission',
    tickFont: boldTicks, titleFont: boldTitle(60),
    textColor: '#111', lineColor: '#000', frameWidth: 5, tickWidth: 5, tickLength: 28, minorLength: 14,
    xTickPad: 16,
    datasets: [
      lineSet(fitLine([cSextetGreen, cSextetBlue, cSingletMagenta], 100, -9.5, 9.7), FIT_RED, 2.4, 0),
      dotSet(cSpectrum, 'circle', 10),
      lineSet(fitLine([cSextetGreen], cComponentBase, -9.55, 9.75), GREEN, 2.2, 2),
      lineSet(fitLine([cSingletMagenta], cComponentBase, -9.55, 9.75), MAGENTA, 2.2, 2),
      lineSet(fitLine([cSextetBlue], cComponentBase, -9.55, 9.75), BLUE, 2.2, 2)
    ]
  });

// (d)
const dComponentBase = 101.07;
makeChart('chartD',
  { canvas: { left: 1720, top: 1300, width: 1720, height: 1220 }, frame: { l: 1900, t: 1413, r: 3379, b: 2233 }, yAxisLeft: 1780, xAxisBottom: 2416 },
  {
    xRange: [-11, 11], yRange: [90.62, 101.92],
    yTitle: 'Relative transmission',
    tickFont: boldTicks, titleFont: boldTitle(61),
    textColor: '#111', lineColor: '#000', frameWidth: 5, tickWidth: 5, tickLength: 28, minorLength: 14,
    xTickPad: 19,
    datasets: [
      lineSet(fitLine([dSextetGreen, dSextetBlue, dSextetPurple, dSingletMagenta], 100, -9.7, 9.75), FIT_RED, 2.4, 0),
      dotSet(dSpectrum, 'circle', 10.5),
      lineSet(fitLine([dSextetGreen], dComponentBase, -9.7, 9.75), GREEN, 2.2, 2),
      lineSet(fitLine([dSextetBlue], dComponentBase, -8.0, 8.0), BLUE, 2.2, 2),
      lineSet(fitLine([dSextetPurple], dComponentBase, -8.0, 8.0), PURPLE, 2.2, 2),
      lineSet(fitLine([dSingletMagenta], dComponentBase, -8.0, 8.0), MAGENTA, 2.2, 2)
    ]
  });
</script>
</body>
</html>
